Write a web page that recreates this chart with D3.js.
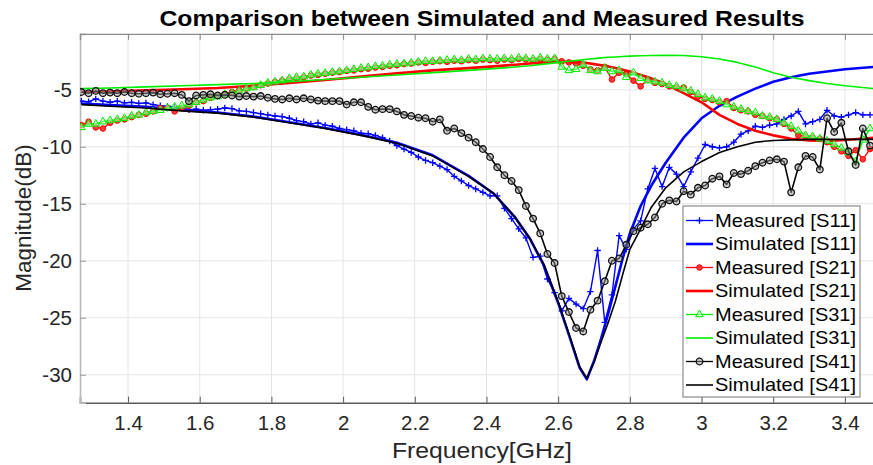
<!DOCTYPE html>
<html><head><meta charset="utf-8">
<script src="https://cdn.jsdelivr.net/npm/d3@7/dist/d3.min.js"></script>
<style>body{margin:0;background:#fff;} svg{display:block;font-family:Arial,"Liberation Sans",sans-serif;}</style>
</head><body><svg id="chart" width="873" height="465"></svg>
<script>
// ---------- DATA ----------
const measFreq = [1.27,1.29,1.31,1.33,1.35,1.37,1.39,1.41,1.43,1.45,
  1.47,1.49,1.51,1.53,1.55,1.57,1.59,1.61,1.63,1.65,
  1.67,1.69,1.71,1.73,1.75,1.77,1.79,1.81,1.83,1.85,
  1.87,1.89,1.91,1.93,1.95,1.97,1.99,2.01,2.03,2.05,
  2.07,2.09,2.11,2.13,2.15,2.17,2.19,2.21,2.23,2.25,
  2.27,2.29,2.31,2.33,2.35,2.37,2.39,2.41,2.43,2.45,
  2.47,2.49,2.51,2.53,2.55,2.57,2.59,2.61,2.63,2.65,
  2.67,2.69,2.71,2.73,2.75,2.77,2.79,2.81,2.83,2.85,
  2.87,2.89,2.91,2.93,2.95,2.97,2.99,3.01,3.03,3.05,
  3.07,3.09,3.11,3.13,3.15,3.17,3.19,3.21,3.23,3.25,
  3.27,3.29,3.31,3.33,3.35,3.37,3.39,3.41,3.43,3.45,3.47];

const measS11 = [-6.0,-6.05,-5.8,-6.0,-6.1,-6.0,-6.15,-6.1,-6.2,-6.15,
  -6.3,-6.4,-6.45,-6.5,-6.6,-6.75,-6.7,-6.8,-6.75,-6.7,
  -6.6,-6.65,-6.85,-6.9,-7.0,-7.1,-7.2,-7.3,-7.35,-7.5,
  -7.7,-7.8,-8.0,-7.9,-8.1,-8.2,-8.4,-8.5,-8.6,-8.8,
  -8.85,-9.0,-9.2,-9.5,-9.9,-10.2,-10.5,-10.9,-11.2,-11.4,
  -11.7,-12.0,-12.6,-13.0,-13.4,-13.7,-14.0,-14.3,-14.3,-15.4,
  -16.3,-17.2,-18.0,-19.7,-19.6,-21.6,-22.8,-24.4,-23.3,-23.8,
  -24.2,-22.7,-19.1,-25.4,-23.0,-17.8,-19.0,-17.2,-16.5,-13.7,
  -11.9,-13.5,-11.8,-12.4,-13.5,-12.2,-11.0,-9.8,-10.0,-10.1,
  -10.0,-9.6,-8.9,-8.6,-8.2,-8.3,-8.1,-8.0,-7.6,-7.3,
  -6.9,-8.0,-7.8,-7.6,-6.8,-7.3,-7.4,-7.2,-7.0,-7.2,-7.2];

const measS21 = [-8.1,-7.8,-8.3,-8.4,-7.9,-7.7,-7.6,-7.4,-7.2,-7.1,
  -6.9,-6.6,-6.6,-6.9,-6.6,-6.4,-6.1,-6.0,-5.7,-5.5,
  -5.35,-5.2,-5.05,-4.9,-4.75,-4.6,-4.45,-4.3,-4.2,-4.1,
  -4.0,-3.9,-3.75,-3.7,-3.6,-3.5,-3.45,-3.35,-3.3,-3.2,
  -3.15,-3.05,-3.0,-2.9,-2.85,-2.75,-2.7,-2.6,-2.65,-2.55,
  -2.5,-2.55,-2.45,-2.5,-2.4,-2.45,-2.35,-2.4,-2.45,-2.35,
  -2.4,-2.3,-2.35,-2.4,-2.3,-2.35,-2.3,-2.5,-2.6,-2.7,
  -2.9,-3.2,-3.3,-3.0,-4.1,-3.5,-3.6,-4.2,-4.7,-4.1,
  -4.4,-4.5,-4.7,-4.8,-4.8,-5.2,-5.6,-5.8,-5.9,-6.1,
  -6.0,-6.6,-6.8,-6.9,-7.2,-7.3,-7.5,-7.6,-8.0,-8.4,
  -9.0,-9.1,-9.2,-9.3,-9.6,-10.0,-10.4,-10.8,-10.3,-11.1,-10.2];

const measS31 = [-8.3,-8.0,-8.0,-7.8,-7.7,-7.6,-7.5,-7.3,-7.2,-7.0,
  -6.9,-6.8,-6.6,-6.5,-6.4,-6.3,-6.1,-5.9,-5.7,-5.6,
  -5.4,-5.3,-5.1,-4.9,-4.8,-4.6,-4.4,-4.3,-4.2,-4.0,
  -3.9,-3.85,-3.7,-3.6,-3.55,-3.45,-3.4,-3.3,-3.2,-3.1,
  -3.05,-2.95,-2.9,-2.8,-2.75,-2.7,-2.65,-2.55,-2.5,-2.5,
  -2.45,-2.4,-2.35,-2.4,-2.3,-2.35,-2.25,-2.3,-2.3,-2.25,
  -2.3,-2.2,-2.25,-2.3,-2.2,-2.3,-2.25,-3.0,-3.3,-3.2,
  -2.8,-3.3,-3.4,-3.1,-3.4,-3.3,-3.9,-3.5,-4.0,-4.2,
  -4.3,-4.4,-4.6,-4.7,-4.9,-5.1,-5.4,-5.7,-5.8,-6.0,
  -6.3,-6.5,-6.7,-6.9,-7.0,-7.3,-7.4,-7.6,-7.9,-8.2,
  -8.6,-9.0,-9.1,-9.3,-9.5,-9.8,-10.1,-10.5,-11.3,-9.4,-8.4];

const measS41 = [-5.2,-5.3,-5.1,-5.3,-5.25,-5.3,-5.2,-5.3,-5.35,-5.3,
  -5.25,-5.4,-5.35,-5.3,-5.45,-6.0,-5.5,-5.45,-5.4,-5.5,
  -5.45,-5.5,-5.6,-5.55,-5.6,-5.55,-5.7,-5.8,-5.85,-5.75,
  -5.85,-5.75,-5.85,-5.95,-6.0,-6.0,-6.0,-6.3,-6.1,-6.1,
  -6.5,-6.75,-6.7,-6.7,-6.9,-7.2,-7.3,-7.45,-7.5,-7.8,
  -7.6,-8.6,-8.4,-8.8,-9.2,-9.6,-10.2,-10.9,-11.8,-12.5,
  -13.0,-13.8,-15.2,-16.3,-17.6,-19.4,-20.2,-23.1,-24.5,-25.9,
  -26.2,-24.3,-23.5,-21.8,-20.0,-19.8,-18.6,-17.4,-17.1,-16.8,
  -16.2,-15.0,-14.7,-14.8,-13.9,-14.2,-13.6,-13.4,-12.8,-12.6,
  -13.3,-12.3,-12.4,-12.1,-11.7,-11.4,-11.2,-11.1,-11.3,-14.0,
  -11.8,-10.8,-10.9,-12.0,-7.5,-8.7,-7.9,-10.4,-11.6,-8.4,-9.9];

const simFreq = [1.27,1.35,1.45,1.55,1.65,1.75,1.85,1.95,2.05,2.15,
  2.25,2.35,2.42,2.48,2.52,2.56,2.60,2.63,2.66,2.68,
  2.70,2.72,2.74,2.76,2.78,2.80,2.83,2.86,2.90,2.95,
  3.00,3.05,3.10,3.15,3.20,3.25,3.30,3.35,3.40,3.48];

const simS11 = [-6.2,-6.35,-6.5,-6.75,-7.0,-7.35,-7.85,-8.35,-8.95,-9.65,
  -10.75,-12.55,-14.1,-16.2,-18.0,-20.4,-23.7,-26.5,-29.4,-30.4,
  -28.8,-26.8,-24.6,-22.2,-19.8,-17.6,-15.2,-13.4,-11.4,-9.2,
  -7.5,-6.4,-5.6,-4.9,-4.3,-3.9,-3.6,-3.4,-3.2,-3.0];

const simS21 = [-5.2,-5.15,-5.05,-4.95,-4.85,-4.65,-4.4,-4.15,-3.85,-3.55,
  -3.3,-3.1,-2.95,-2.8,-2.7,-2.6,-2.55,-2.55,-2.6,-2.65,
  -2.75,-2.85,-2.95,-3.1,-3.25,-3.4,-3.7,-4.0,-4.5,-5.3,
  -6.1,-7.2,-8.0,-8.6,-9.0,-9.3,-9.45,-9.5,-9.4,-9.2];

const simS31 = [-4.9,-4.85,-4.75,-4.65,-4.55,-4.45,-4.3,-4.1,-3.9,-3.7,
  -3.5,-3.3,-3.15,-3.0,-2.9,-2.75,-2.6,-2.5,-2.4,-2.33,
  -2.27,-2.2,-2.15,-2.12,-2.08,-2.05,-2.02,-2.0,-1.98,-2.0,
  -2.1,-2.3,-2.6,-3.0,-3.5,-3.9,-4.2,-4.45,-4.65,-4.9];

const simS41 = [-6.3,-6.45,-6.6,-6.85,-7.05,-7.4,-7.9,-8.4,-9.0,-9.7,
  -10.8,-12.6,-14.1,-16.2,-18.0,-20.3,-23.6,-26.4,-29.3,-30.3,
  -28.9,-27.1,-25.4,-23.5,-21.2,-19.0,-17.2,-15.3,-13.6,-12.2,
  -11.3,-10.5,-10.0,-9.6,-9.45,-9.4,-9.35,-9.35,-9.35,-9.35];

const xTicks = [1.4,1.6,1.8,2,2.2,2.4,2.6,2.8,3,3.2,3.4];
const yTicks = [-30,-25,-20,-15,-10,-5];
const legendLabels = ["Measured [S11]","Simulated [S11]","Measured [S21]","Simulated [S21]",
  "Measured [S31]","Simulated [S31]","Measured [S41]","Simulated [S41]"];

// ---------- SERIES STYLE ----------
const series = [
  {f: measFreq, v: measS11, color:"#0000ff", w:1.4, marker:"plus"},
  {f: simFreq,  v: simS11,  color:"#0000ff", w:2.6, marker:null},
  {f: measFreq, v: measS21, color:"#ff0000", w:1.4, marker:"dot"},
  {f: simFreq,  v: simS21,  color:"#ff0000", w:2.6, marker:null},
  {f: measFreq, v: measS31, color:"#00ee00", w:1.4, marker:"tri"},
  {f: simFreq,  v: simS31,  color:"#00ee00", w:1.6, marker:null},
  {f: measFreq, v: measS41, color:"#000000", w:1.6, marker:"ring"},
  {f: simFreq,  v: simS41,  color:"#000000", w:1.6, marker:null}
];

// ---------- CHART ----------
const svg = d3.select("#chart");
const L = 80, R = 884, T = 33.9, B = 402.7;
const x = d3.scaleLinear().domain([1.266, 3.509]).range([L, R]);
const y = d3.scaleLinear().domain([-32.45, -0.1]).range([B, T]);

svg.append("rect").attr("width",873).attr("height",465).attr("fill","#fff");

// grid
const grid = svg.append("g");
grid.selectAll(".gx").data(xTicks).join("line")
  .attr("x1", d=>x(d)).attr("x2", d=>x(d)).attr("y1", T).attr("y2", B)
  .attr("stroke","#e4e4e4").attr("stroke-width",1);
grid.selectAll(".gy").data(yTicks).join("line")
  .attr("x1", L).attr("x2", R).attr("y1", d=>y(d)).attr("y2", d=>y(d))
  .attr("stroke","#e4e4e4").attr("stroke-width",1);

// axes
const xAxis = svg.append("g").attr("transform",`translate(0,${B})`)
  .call(d3.axisBottom(x).tickValues(xTicks).tickSize(-6).tickPadding(13).tickFormat(d=>String(d)));
const yAxis = svg.append("g").attr("transform",`translate(${L},0)`)
  .call(d3.axisLeft(y).tickValues(yTicks).tickSize(-6).tickPadding(8).tickFormat(d=>String(d)));
const topAxis = svg.append("g").attr("transform",`translate(0,${T})`)
  .call(d3.axisTop(x).tickValues(xTicks).tickSize(-6).tickFormat(""));
[xAxis,yAxis,topAxis].forEach(g=>{
  g.selectAll("text").attr("fill","#262626").style("font-size","20.5px").style("font-family","Arial, 'Liberation Sans', sans-serif");
});
xAxis.select(".domain").attr("stroke","#5a5a5a").attr("stroke-width",1.6);
xAxis.selectAll(".tick line").attr("stroke","#5a5a5a");
yAxis.select(".domain").attr("stroke","#b8b8b8").attr("stroke-width",1.6);
yAxis.selectAll(".tick line").attr("stroke","#9a9a9a");
topAxis.select(".domain").attr("stroke","#8a8a8a").attr("stroke-width",1.3);
topAxis.selectAll(".tick line").attr("stroke","#8a8a8a");

// clip
svg.append("clipPath").attr("id","clip").append("rect")
  .attr("x",L).attr("y",T).attr("width",R-L).attr("height",B-T);
const plot = svg.append("g").attr("clip-path","url(#clip)");

const line = d3.line().x(d=>x(d[0])).y(d=>y(d[1]));

function drawMarker(g, type, color){
  if(type==="plus"){
    g.append("path").attr("d","M-3.2,0H3.2M0,-3.2V3.2").attr("stroke",color).attr("stroke-width",1.3).attr("fill","none");
  } else if(type==="dot"){
    g.append("circle").attr("r",2.8).attr("fill","#ff3a3a").attr("stroke",color).attr("stroke-width",1);
  } else if(type==="tri"){
    g.append("path").attr("d",d3.symbol(d3.symbolTriangle,26)()).attr("fill","#c8ffc8").attr("fill-opacity",0.5).attr("stroke",color).attr("stroke-width",1);
  } else if(type==="ring"){
    g.append("circle").attr("r",3.3).attr("fill","#9a9a9a").attr("fill-opacity",0.5).attr("stroke","#111").attr("stroke-width",1.3);
  }
}

series.forEach(s=>{
  const pts = s.f.map((f,i)=>[f, s.v[i]]);
  plot.append("path").datum(pts).attr("d",line)
    .attr("fill","none").attr("stroke",s.color).attr("stroke-width",s.w).attr("stroke-linejoin","round");
  if(s.marker){
    const mg = plot.append("g");
    pts.forEach(p=>{
      const g = mg.append("g").attr("transform",`translate(${x(p[0])},${y(p[1])})`);
      drawMarker(g, s.marker, s.color);
    });
  }
});

// title & labels
svg.append("text").attr("x",482).attr("y",26).attr("text-anchor","middle")
  .attr("font-weight","bold").attr("font-size",22).attr("fill","#000")
  .attr("textLength",645).attr("lengthAdjust","spacingAndGlyphs")
  .text("Comparison between Simulated and Measured Results");
svg.append("text").attr("x",482).attr("y",458).attr("text-anchor","middle")
  .attr("font-size",22).attr("fill","#262626")
  .attr("textLength",180).attr("lengthAdjust","spacingAndGlyphs")
  .text("Frequency[GHz]");
svg.append("text").attr("transform","translate(31,218) rotate(-90)").attr("text-anchor","middle")
  .attr("font-size",22.5).attr("fill","#262626")
  .text("Magnitude(dB)");

// legend
const lg = svg.append("g");
lg.append("rect").attr("x",683).attr("y",206).attr("width",177).attr("height",191)
  .attr("fill","#fff").attr("stroke","#8c8c8c").attr("stroke-width",1.2);
legendLabels.forEach((lab,i)=>{
  const s = series[i];
  const cy = 220.5 + i*23.5;
  lg.append("line").attr("x1",686).attr("x2",713).attr("y1",cy).attr("y2",cy)
    .attr("stroke",s.color).attr("stroke-width", s.marker ? 1.3 : s.w);
  if(s.marker){
    const g = lg.append("g").attr("transform",`translate(699.5,${cy})`);
    drawMarker(g, s.marker, s.color);
  }
  lg.append("text").attr("x",715).attr("y",cy+6.3).attr("font-size",17.7).attr("fill","#000")
    .attr("textLength",141).attr("lengthAdjust","spacingAndGlyphs").text(lab);
});
</script></body></html>
